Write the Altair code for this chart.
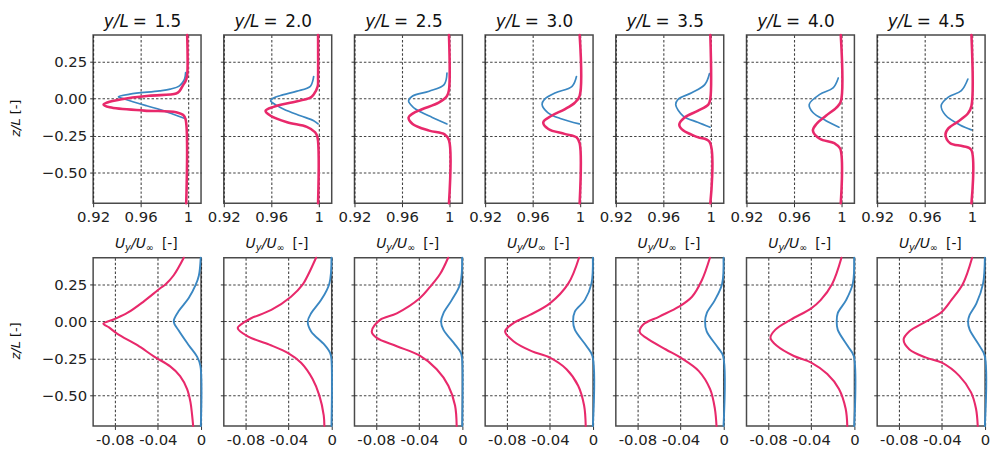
import altair as alt
import pandas as pd

# ---------------- data ----------------
Y_POSITIONS = ["1.5", "2.0", "2.5", "3.0", "3.5", "4.0", "4.5"]

# top row: profiles near 1 (blue / pink), z/L vs value
TOP_BLUE_Z = [
    [0.177, 0.13, 0.087, 0.065, 0.053, 0.031, 0.013, -0.003, -0.047, -0.075, -0.103, -0.135],
    [0.15, 0.12, 0.084, 0.051, 0.022, 0.0, -0.015, -0.04, -0.071, -0.115, -0.148, -0.17],
    [0.173, 0.095, 0.051, 0.018, -0.015, -0.04, -0.071, -0.126, -0.17],
    [0.15, 0.084, 0.04, -0.004, -0.038, -0.093, -0.135, -0.17],
    [0.17, 0.095, 0.04, -0.004, -0.04, -0.115, -0.159, -0.192],
    [0.14, 0.073, 0.029, -0.038, -0.093, -0.148, -0.192],
    [0.133, 0.055, 0.011, -0.044, -0.11, -0.177, -0.21],
]
TOP_BLUE_U = [
    [0.998, 0.997, 0.9928, 0.985, 0.976, 0.951, 0.9413, 0.947, 0.965, 0.977, 0.987, 0.998],
    [0.9958, 0.995, 0.993, 0.9818, 0.9678, 0.9608, 0.9595, 0.9635, 0.9706, 0.9846, 0.9958, 0.9995],
    [0.998, 0.9956, 0.983, 0.969, 0.9656, 0.9675, 0.9717, 0.9856, 0.998],
    [0.997, 0.9933, 0.9794, 0.97, 0.968, 0.9728, 0.984, 0.9994],
    [0.999, 0.995, 0.984, 0.9725, 0.9705, 0.9766, 0.989, 0.9995],
    [0.9974, 0.993, 0.9818, 0.9729, 0.976, 0.987, 0.998],
    [0.9965, 0.991, 0.98, 0.974, 0.9775, 0.9898, 0.9995],
]
TOP_PINK_Z = [
    [0.43, 0.16, 0.12, 0.087, 0.053, 0.035, 0.02, -0.003, -0.025, -0.04, -0.058, -0.08, -0.091, -0.11, -0.14, -0.705],
    [0.43, 0.15, 0.084, 0.029, 0.007, -0.027, -0.055, -0.082, -0.115, -0.159, -0.19, -0.226, -0.26, -0.705],
    [0.43, 0.06, 0.018, -0.027, -0.071, -0.1, -0.126, -0.17, -0.215, -0.24, -0.28, -0.705],
    [0.43, 0.02, -0.027, -0.071, -0.115, -0.159, -0.204, -0.237, -0.26, -0.3, -0.705],
    [0.43, 0.0, -0.04, -0.082, -0.126, -0.175, -0.215, -0.259, -0.29, -0.705],
    [0.43, -0.02, -0.06, -0.115, -0.17, -0.215, -0.27, -0.3, -0.336, -0.705],
    [0.43, -0.05, -0.1, -0.155, -0.2, -0.243, -0.3, -0.32, -0.343, -0.705],
]
TOP_PINK_U = [
    [0.9993, 0.9993, 0.998, 0.9955, 0.993, 0.99, 0.967, 0.944, 0.932, 0.9288, 0.934, 0.963, 0.99, 0.996, 0.998, 0.9985],
    [0.9995, 0.9995, 0.9992, 0.9958, 0.993, 0.976, 0.962, 0.9552, 0.9594, 0.9734, 0.99, 0.997, 0.999, 0.9995],
    [0.9997, 0.9997, 0.998, 0.991, 0.977, 0.969, 0.9656, 0.969, 0.983, 0.996, 0.9997, 0.9997],
    [0.9997, 0.9997, 0.9956, 0.987, 0.976, 0.969, 0.9733, 0.987, 0.997, 0.9997, 0.9997],
    [0.9997, 0.9997, 0.998, 0.989, 0.978, 0.9735, 0.977, 0.989, 0.999, 0.9997],
    [0.9995, 0.9995, 0.9958, 0.987, 0.979, 0.976, 0.9818, 0.994, 0.999, 0.9995],
    [0.9995, 0.9995, 0.9965, 0.988, 0.98, 0.9776, 0.9816, 0.9924, 0.9992, 0.9995],
]

# bottom row: profiles near 0
BOT_PINK_Z = [
    [0.43, 0.31, 0.25, 0.224, 0.136, 0.059, 0.015, -0.015, -0.04, -0.083, -0.16, -0.237, -0.303, -0.368, -0.456, -0.544, -0.63, -0.705],
    [0.43, 0.31, 0.25, 0.167, 0.078, 0.022, 0.0, -0.044, -0.1, -0.156, -0.215, -0.278, -0.389, -0.5, -0.633, -0.705],
    [0.43, 0.32, 0.233, 0.155, 0.055, 0.011, -0.067, -0.111, -0.167, -0.229, -0.322, -0.433, -0.567, -0.705],
    [0.43, 0.255, 0.122, 0.044, -0.011, -0.067, -0.133, -0.2, -0.244, -0.322, -0.433, -0.567, -0.705],
    [0.43, 0.278, 0.167, 0.1, 0.033, -0.022, -0.07, -0.111, -0.189, -0.244, -0.333, -0.455, -0.589, -0.705],
    [0.43, 0.255, 0.144, 0.089, 0.011, -0.055, -0.111, -0.166, -0.233, -0.277, -0.355, -0.455, -0.589, -0.705],
    [0.43, 0.255, 0.144, 0.066, 0.0, -0.066, -0.122, -0.189, -0.244, -0.278, -0.367, -0.478, -0.589, -0.705],
]
BOT_PINK_U = [
    [-0.016, -0.0255, -0.033, -0.0378, -0.053, -0.068, -0.0806, -0.0905, -0.0853, -0.0775, -0.059, -0.0434, -0.0286, -0.0194, -0.0129, -0.0098, -0.0083, -0.0073],
    [-0.0145, -0.0222, -0.0268, -0.0377, -0.056, -0.0747, -0.08, -0.0871, -0.0778, -0.0578, -0.04, -0.0284, -0.0176, -0.0114, -0.0074, -0.0068],
    [-0.0132, -0.0207, -0.03, -0.0398, -0.0608, -0.0763, -0.084, -0.0794, -0.0608, -0.0398, -0.0238, -0.013, -0.0068, -0.0053],
    [-0.013, -0.023, -0.04, -0.0585, -0.0738, -0.0815, -0.0738, -0.057, -0.04, -0.0246, -0.0138, -0.0083, -0.0068],
    [-0.0128, -0.0203, -0.0294, -0.0415, -0.0597, -0.0748, -0.0779, -0.0718, -0.0536, -0.04, -0.0233, -0.0127, -0.0082, -0.0067],
    [-0.012, -0.0205, -0.0313, -0.04, -0.0592, -0.0732, -0.0778, -0.0716, -0.0561, -0.04, -0.0251, -0.0143, -0.0081, -0.0066],
    [-0.012, -0.0205, -0.0313, -0.04, -0.0546, -0.0701, -0.0755, -0.0701, -0.0546, -0.04, -0.0239, -0.013, -0.0084, -0.0068],
]
BOT_BLUE_Z = [
    [0.43, 0.31, 0.246, 0.158, 0.07, 0.0, -0.061, -0.16, -0.237, -0.3, -0.705],
    [0.43, 0.255, 0.144, 0.055, 0.0, -0.067, -0.156, -0.211, -0.25, -0.705],
    [0.43, 0.255, 0.144, 0.055, 0.0, -0.055, -0.156, -0.21, -0.25, -0.705],
    [0.43, 0.255, 0.144, 0.067, 0.004, -0.055, -0.167, -0.233, -0.705],
    [0.43, 0.255, 0.144, 0.055, 0.0, -0.067, -0.178, -0.233, -0.705],
    [0.43, 0.255, 0.144, 0.055, 0.0, -0.055, -0.166, -0.233, -0.705],
    [0.43, 0.255, 0.122, 0.044, 0.0, -0.055, -0.166, -0.233, -0.705],
]
BOT_BLUE_U = [
    [-0.0003, -0.002, -0.005, -0.0114, -0.0207, -0.0253, -0.0207, -0.0114, -0.0037, -0.0006, -0.0002],
    [-0.0002, -0.0022, -0.0099, -0.0191, -0.0222, -0.0191, -0.0068, -0.0015, -0.0003, -0.0002],
    [-0.0002, -0.002, -0.0099, -0.0176, -0.0198, -0.0176, -0.0068, -0.0015, -0.0003, -0.0002],
    [-0.0002, -0.0015, -0.0077, -0.0169, -0.0185, -0.0169, -0.006, -0.0006, -0.0002],
    [-0.0002, -0.0015, -0.0082, -0.0158, -0.0173, -0.0158, -0.0052, -0.0006, -0.0002],
    [-0.0002, -0.0015, -0.0077, -0.0155, -0.0164, -0.0155, -0.0062, -0.0006, -0.0002],
    [-0.0002, -0.0019, -0.008, -0.0143, -0.0158, -0.0143, -0.005, -0.0003, -0.0002],
]

TOP_X_TICKS = [0.92, 0.96, 1.0]
BOT_X_TICKS = [-0.08, -0.04, 0.0]
Y_TICKS = [-0.5, -0.25, 0.0, 0.25]
TOP_X_DOMAIN = [0.92, 1.011]
BOT_X_DOMAIN = [-0.1, 0.0]
Y_DOMAIN = [-0.705, 0.43]

# ---------------- style ----------------
BLUE = "#3a87c2"
PINK = "#e8296b"
FONT = "DejaVu Sans"
PW, PH = 109, 170


def text_layer(label, x, y, size, style="normal", align="left", baseline="alphabetic", angle=0):
    return alt.Chart(pd.DataFrame({"t": [label]})).mark_text(
        font=FONT, fontSize=size, fontStyle=style, align=align, baseline=baseline,
        angle=angle, color="#111"
    ).encode(x=alt.value(x), y=alt.value(y), text="t:N")


def panel(row, k):
    if row == 0:
        bz, bu, pz, pu = TOP_BLUE_Z[k], TOP_BLUE_U[k], TOP_PINK_Z[k], TOP_PINK_U[k]
        xdom, xticks = TOP_X_DOMAIN, TOP_X_TICKS
        lexpr = "datum.value >= 0.999 ? '1' : format(datum.value, '.2f')"
        pw_pink, pw_blue = 2.6, 1.7
    else:
        bz, bu, pz, pu = BOT_BLUE_Z[k], BOT_BLUE_U[k], BOT_PINK_Z[k], BOT_PINK_U[k]
        xdom, xticks = BOT_X_DOMAIN, BOT_X_TICKS
        lexpr = "datum.value < -0.06 ? '-0.08' : (datum.value < -0.02 ? '-0.04' : '0')"
        pw_pink, pw_blue = 2.1, 1.9

    blue_df = pd.DataFrame({"z": bz, "u": bu, "i": list(range(len(bz)))})
    pink_df = pd.DataFrame({"z": pz, "u": pu, "i": list(range(len(pz)))})

    xs = alt.Scale(domain=xdom, nice=False, zero=False)
    ys = alt.Scale(domain=Y_DOMAIN, nice=False, zero=False)
    xa = alt.Axis(values=xticks, labelExpr=lexpr, title=None, grid=True,
                  labelOverlap=False, labelFlush=False)
    if k == 0:
        ya = alt.Axis(values=Y_TICKS, title=None, grid=True, labelFlush=False,
                      labelExpr="replace(format(datum.value, '.2f'), '-', '\u2212')")
    else:
        ya = alt.Axis(values=Y_TICKS, title=None, grid=True, labels=False)

    enc = dict(
        x=alt.X("u:Q", scale=xs, axis=xa),
        y=alt.Y("z:Q", scale=ys, axis=ya),
        order=alt.Order("i:Q"),
    )
    blue = alt.Chart(blue_df).mark_line(color=BLUE, strokeWidth=pw_blue, interpolate="catmull-rom",
                                        strokeCap="round", strokeJoin="round").encode(**enc)
    pink = alt.Chart(pink_df).mark_line(color=PINK, strokeWidth=pw_pink, interpolate="catmull-rom",
                                        strokeCap="round", strokeJoin="round").encode(**enc)
    layers = [blue, pink]

    if row == 0:
        # panel title  y/L = value
        layers += [
            text_layer("y/L", 36, -8, 17, "italic", align="right"),
            text_layer("=", 40, -8, 17),
            text_layer(Y_POSITIONS[k], 62, -8, 17),
        ]
        # x-axis title  U_y/U_inf [-]
        yb = PH + 45
        layers += [
            text_layer("U", 22, yb, 14, "italic"),
            text_layer("y", 32.2, yb + 3, 10, "italic"),
            text_layer("/", 38.3, yb, 14, "italic"),
            text_layer("U", 43, yb, 14, "italic"),
            text_layer("\u221e", 53.2, yb + 3, 10),
            text_layer("[-]", 69.5, yb, 14),
        ]
    if k == 0:
        cy = PH / 2 - 1
        layers += [
            text_layer("z/L", -77.7, cy + 18.7, 13, "italic", align="left", baseline="middle", angle=270),
            text_layer("[-]", -77.7, cy - 3.8, 13, align="left", baseline="middle", angle=270),
        ]
    return alt.layer(*layers).properties(width=PW, height=PH)


panels = [panel(0, k) for k in range(7)] + [panel(1, k) for k in range(7)]

chart = alt.concat(
    *panels, columns=7, spacing={"row": 55, "column": 23}, bounds="flush"
).properties(
    padding={"left": 1, "top": 2, "right": 2, "bottom": 0},
    background="white",
).configure_view(
    stroke="#4a4a4a", strokeWidth=1.5
).configure_axis(
    labelFont=FONT, labelFontSize=15, labelColor="#222", labelPadding=3,
    tickColor="#333", tickSize=3.5, tickWidth=1,
    domain=False,
    gridColor="#222", gridDash=[2.5, 2], gridWidth=1.1, gridOpacity=0.85,
)

chart.save("out.html", embed_options={"renderer": "svg", "actions": False})
